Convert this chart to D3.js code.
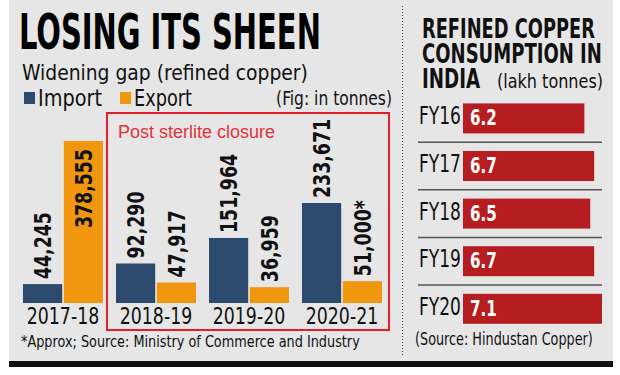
<!DOCTYPE html>
<html>
<head>
<meta charset="utf-8">
<script src="https://cdn.jsdelivr.net/npm/d3@7"></script>
<style>
  body { margin: 0; background: #fff; }
  text { font-family: "Liberation Sans Narrow", "DejaVu Sans Condensed", sans-serif; }
</style>
</head>
<body>
<div id="chart"></div>
<script>
// left panel: refined copper trade (tonnes)
const years = ["2017-18", "2018-19", "2019-20", "2020-21"];
const imports = [44245, 92290, 151964, 233671];
const exports = [378555, 47917, 36959, 51000];
const exportApprox = [false, false, false, true];
const series = ["Import", "Export"];

// right panel: consumption (lakh tonnes)
const fyears = ["FY16", "FY17", "FY18", "FY19", "FY20"];
const consumption = [6.2, 6.7, 6.5, 6.7, 7.1];

const width = 620, height = 375;
const navy = "#2c4a6d", orange = "#f0960f", red = "#b51d20";
const fmt = d3.format(",");

// no narrow font installed, so squeeze the condensed one horizontally
function squeezeTo(sel, w) {
    sel.each(function () {
        const t = d3.select(this);
        const k = w / this.getComputedTextLength();
        const x = +t.attr("x") || 0, y = +t.attr("y") || 0;
        const pre = t.attr("transform") || "";
        t.attr("x", null).attr("y", null)
            .attr("transform", pre ? `${pre} scale(${k},1)` : `translate(${x},${y}) scale(${k},1)`);
    });
    return sel;
}
function squeeze(sel, k) {
    sel.each(function () { squeezeTo(d3.select(this), this.getComputedTextLength() * k); });
    return sel;
}

const svg = d3.select("#chart").append("svg")
    .attr("width", width).attr("height", height);

svg.append("rect").attr("x", 9).attr("y", 0).attr("width", 604).attr("height", 361)
    .attr("fill", "#e6e6e6");
svg.append("rect").attr("x", 9).attr("y", 361).attr("width", 604).attr("height", 6)
    .attr("fill", "#111");

// dotted divider
svg.append("line").attr("x1", 402.5).attr("x2", 402.5).attr("y1", 6).attr("y2", 356)
    .attr("stroke", "#444").attr("stroke-width", 1).attr("stroke-dasharray", "1,2");

// headings
squeezeTo(svg.append("text").attr("x", 19).attr("y", 49)
    .attr("font-size", 50).attr("font-weight", 700)
    .text("LOSING ITS SHEEN"), 302);
squeezeTo(svg.append("text").attr("x", 22).attr("y", 80)
    .attr("font-size", 22).attr("fill", "#111")
    .text("Widening gap (refined copper)"), 286);

// legend
const legX = [24, 120];
const legW = [64, 58];
series.forEach((s, i) => {
    svg.append("rect").attr("x", legX[i]).attr("y", 92).attr("width", 11).attr("height", 12)
        .attr("fill", i == 0 ? navy : orange);
    squeezeTo(svg.append("text").attr("x", legX[i] + 14).attr("y", 106)
        .attr("font-size", 23).attr("fill", "#111").text(s), legW[i]);
});
squeezeTo(svg.append("text").attr("x", 392).attr("y", 105).attr("text-anchor", "end")
    .attr("font-size", 19).attr("fill", "#111").text("(Fig: in tonnes)"), 116);

// grouped bars
const x0 = d3.scaleBand().domain(years).range([16.5, 388.5])
    .paddingInner(13 / 93).paddingOuter(13 / 186);
const x1 = d3.scaleBand().domain(series).range([0, x0.bandwidth()]).paddingInner(0.04);
const y = d3.scaleLinear().domain([0, 378555]).range([303, 141]);

const rows = years.map((yr, i) => ({
    year: yr,
    values: [
        { key: "Import", value: imports[i], label: fmt(imports[i]) },
        { key: "Export", value: exports[i], label: fmt(exports[i]) + (exportApprox[i] ? "*" : "") }
    ]
}));

// red highlight box
svg.append("rect").attr("x", 107).attr("y", 113).attr("width", 282).attr("height", 217)
    .attr("fill", "none").attr("stroke", "#e31e2a").attr("stroke-width", 2);
svg.append("text").attr("x", 118).attr("y", 138)
    .style("font-family", "'Liberation Sans', Arial, sans-serif")
    .attr("font-size", 18).attr("fill", "#e5303c").text("Post sterlite closure");

const groups = svg.append("g").selectAll("g").data(rows).join("g")
    .attr("transform", d => `translate(${x0(d.year)},0)`);

groups.selectAll("rect").data(d => d.values).join("rect")
    .attr("x", d => x1(d.key))
    .attr("y", d => y(d.value))
    .attr("width", x1.bandwidth())
    .attr("height", d => y(0) - y(d.value))
    .attr("fill", d => d.key == "Import" ? navy : orange);

const inside = d => y(0) - y(d.value) > 100;
const vals = groups.selectAll("text.val").data(d => d.values).join("text")
    .attr("class", "val")
    .attr("transform", d => {
        const cx = x1(d.key) + x1.bandwidth() / 2;
        const ty = inside(d) ? y(d.value) + 8 : y(d.value) - 5;
        return `translate(${cx},${ty}) rotate(-90)`;
    })
    .attr("text-anchor", d => inside(d) ? "end" : "start")
    .attr("dy", "0.36em")
    .attr("font-size", 23).attr("font-weight", 700).attr("fill", "#111")
    .text(d => d.label);
squeeze(vals, 0.84);

squeeze(svg.append("g").selectAll("text").data(years).join("text")
    .attr("x", d => x0(d) + x0.bandwidth() / 2)
    .attr("y", 324)
    .attr("text-anchor", "middle")
    .attr("font-size", 23).attr("fill", "#111")
    .text(d => d), 0.84);

squeezeTo(svg.append("text").attr("x", 21).attr("y", 347)
    .attr("font-size", 16).attr("fill", "#111")
    .text("*Approx; Source: Ministry of Commerce and Industry"), 339);

// right panel
const titleLines = ["REFINED COPPER", "CONSUMPTION IN", "INDIA"];
const titleW = [173, 180, 58];
titleLines.forEach((t, i) => {
    squeezeTo(svg.append("text").attr("x", 422).attr("y", 38 + i * 25)
        .attr("font-size", 27).attr("font-weight", 700).attr("fill", "#111")
        .text(t), titleW[i]);
});
squeezeTo(svg.append("text").attr("x", 603).attr("y", 88).attr("text-anchor", "end")
    .attr("font-size", 20).attr("fill", "#111").text("(lakh tonnes)"), 106);

const xr = d3.scaleLinear().domain([0, 7.1]).range([463, 602]);
const yr = d3.scaleBand().domain(fyears).range([94.6, 332.6])
    .paddingInner(0.37).paddingOuter(0.185);

const cons = fyears.map((f, i) => ({ fy: f, value: consumption[i] }));

svg.append("g").selectAll("line").data(fyears.slice(1)).join("line")
    .attr("x1", 418).attr("x2", 602)
    .attr("y1", d => yr(d) - (yr.step() - yr.bandwidth()) / 2)
    .attr("y2", d => yr(d) - (yr.step() - yr.bandwidth()) / 2)
    .attr("stroke", "#555").attr("stroke-width", 1.5);

svg.append("g").selectAll("rect").data(cons).join("rect")
    .attr("x", xr(0))
    .attr("y", d => yr(d.fy))
    .attr("width", d => xr(d.value) - xr(0))
    .attr("height", yr.bandwidth())
    .attr("fill", red);

squeeze(svg.append("g").selectAll("text").data(cons).join("text")
    .attr("x", 419)
    .attr("y", d => yr(d.fy) + yr.bandwidth() / 2 + 6)
    .attr("font-size", 25).attr("fill", "#111")
    .text(d => d.fy), 0.76);

squeeze(svg.append("g").selectAll("text").data(cons).join("text")
    .attr("x", xr(0) + 7)
    .attr("y", d => yr(d.fy) + yr.bandwidth() / 2 + 7)
    .attr("font-size", 21).attr("font-weight", 700).attr("fill", "#fff")
    .text(d => d.value.toFixed(1)), 0.8);

squeezeTo(svg.append("text").attr("x", 415).attr("y", 345)
    .attr("font-size", 17).attr("fill", "#111")
    .text("(Source: Hindustan Copper)"), 178);
</script>
</body>
</html>
